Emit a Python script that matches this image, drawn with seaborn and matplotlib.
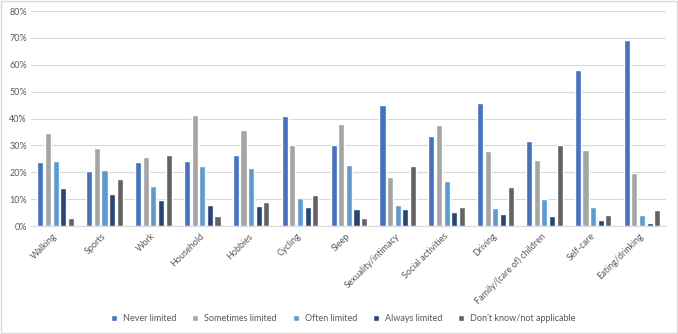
import numpy as np
import matplotlib
matplotlib.use("Agg")
import matplotlib.pyplot as plt
import matplotlib.transforms as mtransforms
from matplotlib.lines import Line2D
from matplotlib.patches import Rectangle
from matplotlib.ticker import PercentFormatter
import seaborn as sns
import pandas as pd

activities = ["Walking", "Sports", "Work", "Household", "Hobbies", "Cycling", "Sleep",
              "Sexuality/intimacy", "Social activities", "Driving",
              "Family/(care of) children", "Self-care", "Eating/drinking"]
series = ["Never limited", "Sometimes limited", "Often limited", "Always limited",
          "Don\u2019t know/not applicable"]

never = [23.7, 20.5, 23.7, 24.4, 26.4, 40.8, 30.0, 44.9, 33.4, 45.9, 31.6, 58.1, 69.3]
sometimes = [34.8, 29.0, 25.6, 41.3, 35.9, 30.2, 38.0, 18.2, 37.7, 28.1, 24.5, 28.2, 19.6]
often = [24.2, 21.0, 14.8, 22.5, 21.5, 10.4, 22.6, 8.0, 16.8, 6.7, 10.0, 7.1, 4.1]
always = [14.2, 12.0, 9.6, 8.0, 7.3, 7.0, 6.3, 6.3, 5.1, 4.6, 3.6, 2.4, 1.1]
dont_know = [3.2, 17.4, 26.4, 3.8, 8.8, 11.7, 3.1, 22.4, 7.1, 14.6, 30.2, 4.0, 5.9]

colors = ["#4472C4", "#A5A5A5", "#5B9BD5", "#264478", "#636363"]

rows = []
for s, vals in zip(series, [never, sometimes, often, always, dont_know]):
    for a, v in zip(activities, vals):
        rows.append({"activity": a, "series": s, "pct": v})
df = pd.DataFrame(rows)

sns.set_style("white")
plt.rcParams["font.family"] = ["Lato", "DejaVu Sans"]
txt = "#595959"

fig = plt.figure(figsize=(6.78, 3.34), dpi=100)
ax = fig.add_axes([0.046, 0.323, 0.937, 0.644])

sns.barplot(data=df, x="activity", y="pct", hue="series", order=activities,
            hue_order=series, palette=colors, width=0.78, gap=0.2,
            saturation=1, legend=False, ax=ax)

ax.set_xlim(-0.5, len(activities) - 0.5)
ax.set_ylim(0, 80)
ax.set_yticks(np.arange(0, 81, 10))
ax.yaxis.set_major_formatter(PercentFormatter(decimals=0))
ax.yaxis.grid(True, color="#D9D9D9", linewidth=0.8)
ax.set_axisbelow(True)
for side in ["top", "right", "left"]:
    ax.spines[side].set_visible(False)
ax.spines["bottom"].set_color("#D9D9D9")
ax.set_xlabel("")
ax.set_ylabel("")
ax.tick_params(axis="both", length=0, labelsize=6.5, colors=txt, pad=3)
ax.tick_params(axis="x", pad=4)
shift = mtransforms.ScaledTranslation(-0.03, 0, fig.dpi_scale_trans)
for lab in ax.get_xticklabels():
    lab.set_rotation(45)
    lab.set_ha("right")
    lab.set_rotation_mode("anchor")
    lab.set_transform(lab.get_transform() + shift)

handles = [Line2D([0], [0], marker="s", color="w", markerfacecolor=c,
                  markersize=4.5, linestyle="") for c in colors]
fig.legend(handles, series, loc="center", bbox_to_anchor=(0.505, 0.048), ncol=5,
           frameon=False, fontsize=6.5, labelcolor=txt, handletextpad=0.5,
           columnspacing=1.6, handlelength=1)

fig.add_artist(Rectangle((0.002, 0.003), 0.996, 0.994, transform=fig.transFigure,
                         fill=False, edgecolor="#D9D9D9", linewidth=1))

fig.savefig("out.png", dpi=100)
